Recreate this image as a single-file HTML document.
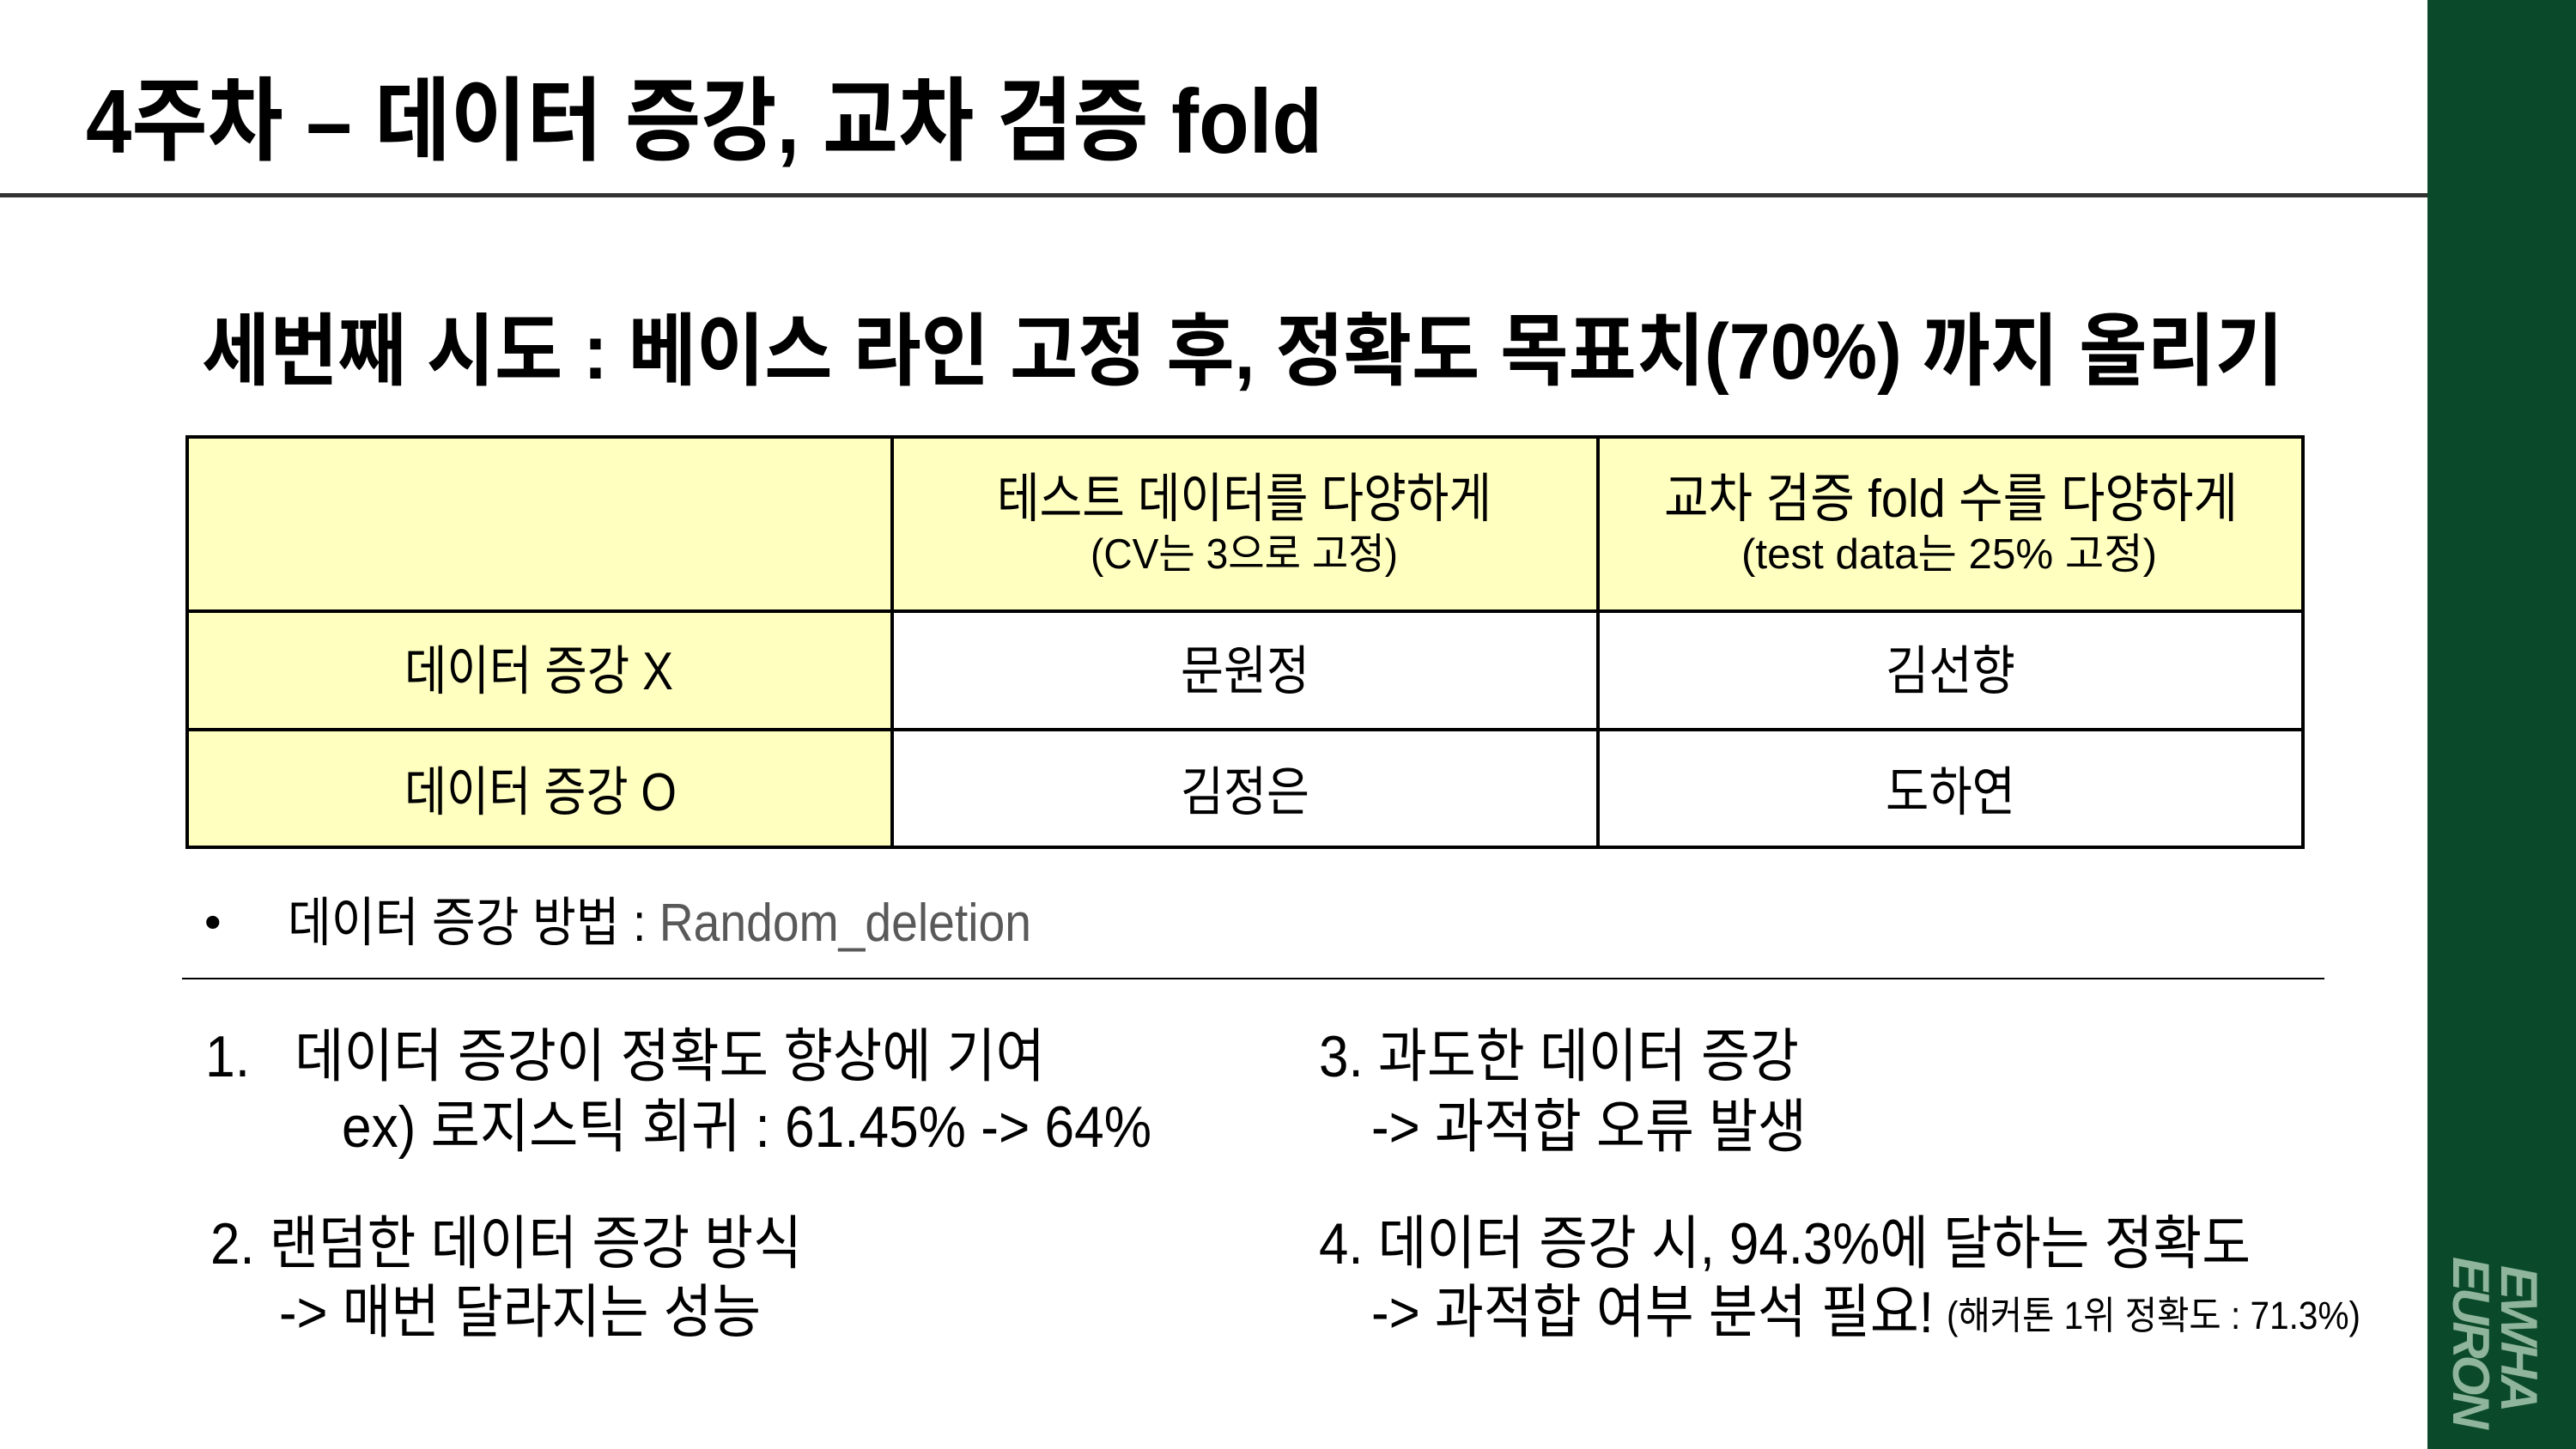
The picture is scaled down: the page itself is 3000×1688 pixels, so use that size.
<!DOCTYPE html>
<html><head><meta charset="utf-8">
<style>
html,body{margin:0;padding:0}
body{width:3000px;height:1688px;position:relative;overflow:hidden;background:#fff;font-family:"Liberation Sans","Noto Sans CJK KR",sans-serif;color:#000}
.t{position:absolute;white-space:nowrap;line-height:1;transform-origin:0 50%;display:inline-block}
.b{font-weight:700}
.cell{position:absolute;box-sizing:border-box}
</style></head><body>
<div class="t b" data-w="1440" style="left:100px;top:89px;font-size:106px">4주차 – 데이터 증강, 교차 검증 fold</div>
<div style="position:absolute;left:0;top:225px;width:2827px;height:5px;background:#333"></div>

<div class="t b" data-w="2424" style="left:235px;top:364px;font-size:92px">세번째 시도 : 베이스 라인 고정 후, 정확도 목표치(70%) 까지 올리기</div>

<div style="position:absolute;left:216px;top:507px;width:2468px;height:482px">
  <div class="cell" style="left:0;top:0;width:825px;height:205px;background:#ffffc0"></div>
  <div class="cell" style="left:823px;top:0;width:824px;height:205px;background:#ffffc0"></div>
  <div class="cell" style="left:1645px;top:0;width:823px;height:205px;background:#ffffc0"></div>
  <div class="cell" style="left:0;top:205px;width:825px;height:138px;background:#ffffc0"></div>
  <div class="cell" style="left:0;top:343px;width:825px;height:139px;background:#ffffc0"></div>
  <div style="position:absolute;left:0;top:0;width:2468px;height:482px;border:4px solid #000;box-sizing:border-box"></div>
  <div style="position:absolute;left:0;top:203px;width:2468px;height:4px;background:#000"></div>
  <div style="position:absolute;left:0;top:341px;width:2468px;height:4px;background:#000"></div>
  <div style="position:absolute;left:821px;top:0;width:4px;height:482px;background:#000"></div>
  <div style="position:absolute;left:1643px;top:0;width:4px;height:482px;background:#000"></div>
</div>
<div class="t" data-w="576" style="left:1161px;top:551px;font-size:62px">테스트 데이터를 다양하게</div>
<div class="t" data-w="358" style="left:1270px;top:622px;font-size:49px">(CV는 3으로 고정)</div>
<div class="t" data-w="668" style="left:1938px;top:551px;font-size:62px">교차 검증 fold 수를 다양하게</div>
<div class="t" data-w="484" style="left:2028px;top:622px;font-size:49px">(test data는 25% 고정)</div>
<div class="t" data-w="313" style="left:471px;top:752px;font-size:62px">데이터 증강 X</div>
<div class="t" data-w="150" style="left:1375px;top:752px;font-size:62px">문원정</div>
<div class="t" data-w="151" style="left:2196px;top:752px;font-size:62px">김선향</div>
<div class="t" data-w="317" style="left:471px;top:893px;font-size:62px">데이터 증강 O</div>
<div class="t" data-w="150" style="left:1375px;top:893px;font-size:62px">김정은</div>
<div class="t" data-w="151" style="left:2196px;top:893px;font-size:62px">도하연</div>

<div class="t" style="left:238px;top:1046px;font-size:56px">•</div>
<div class="t" data-w="866" style="left:335px;top:1045px;font-size:62px">데이터 증강 방법 : <span style="color:#595959">Random_deletion</span></div>
<div style="position:absolute;left:212px;top:1139px;width:2495px;height:2px;background:#000"></div>

<div class="t" data-w="978" style="left:239px;top:1197px;font-size:68px">1.&nbsp;&nbsp;&nbsp;데이터 증강이 정확도 향상에 기여</div>
<div class="t" data-w="943" style="left:398px;top:1279px;font-size:68px">ex) 로지스틱 회귀 : 61.45% -&gt; 64%</div>
<div class="t" data-w="689" style="left:245px;top:1415px;font-size:68px">2. 랜덤한 데이터 증강 방식</div>
<div class="t" data-w="561" style="left:325px;top:1495px;font-size:68px">-&gt; 매번 달라지는 성능</div>
<div class="t" data-w="559" style="left:1536px;top:1197px;font-size:68px">3. 과도한 데이터 증강</div>
<div class="t" data-w="507" style="left:1597px;top:1279px;font-size:68px">-&gt; 과적합 오류 발생</div>
<div class="t" data-w="1085" style="left:1536px;top:1415px;font-size:68px">4. 데이터 증강 시, 94.3%에 달하는 정확도</div>
<div class="t" data-w="655" style="left:1597px;top:1495px;font-size:68px">-&gt; 과적합 여부 분석 필요!</div>
<div class="t" data-w="482" style="left:2267px;top:1510px;font-size:45px">(해커톤 1위 정확도 : 71.3%)</div>

<div style="position:absolute;left:2827px;top:0;width:173px;height:1688px;background:#0a4a2a"></div>
<div style="position:absolute;left:2905px;top:1566px;width:0;height:0">
  <div style="position:absolute;left:-100px;top:-58px;width:200px;transform:rotate(90deg);font-family:'Liberation Sans',sans-serif;font-weight:700;font-style:italic;font-size:60px;line-height:56px;letter-spacing:-4px;color:#8fb59c;text-align:left">
    <div style="padding-left:10px">EWHA</div><div>EURON</div>
  </div>
</div>
<script>
document.querySelectorAll('[data-w]').forEach(function(el){
  var w=el.getBoundingClientRect().width;
  var target=parseFloat(el.getAttribute('data-w'));
  if(w>0) el.style.transform='scaleX('+(target/w)+')';
});
</script>
</body></html>
